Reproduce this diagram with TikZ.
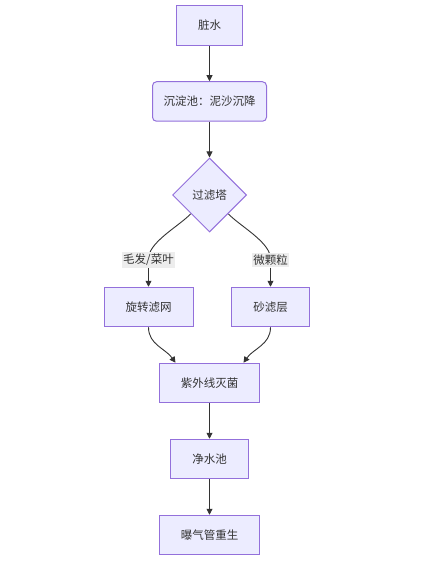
\documentclass[tikz,border=0pt]{standalone}
\usepackage{fontspec}
\setmainfont{Noto Sans CJK SC}
\usepackage{tikz}
\usetikzlibrary{shapes.geometric,arrows.meta,calc}
\pgfdeclarelayer{background}
\pgfsetlayers{background,main}
\definecolor{nodefill}{HTML}{ECECFF}
\definecolor{nodeline}{HTML}{9370DB}
\definecolor{linkcol}{HTML}{333333}
\definecolor{lblfill}{HTML}{EDEDED}

\begin{document}
\begin{tikzpicture}[x=1pt, y=1pt, node distance=76pt, font=\fontsize{11.5}{14}\selectfont, text=linkcol]
\tikzstyle{box}=[draw=nodeline, line width=1pt, fill=nodefill, minimum height=39.5pt, inner xsep=21.5pt]
\tikzstyle{roundbox}=[box, rounded corners=4pt, inner xsep=11pt]
\tikzstyle{decision}=[diamond, draw=nodeline, line width=1pt, fill=nodefill, minimum size=74pt, inner sep=0pt]
\tikzstyle{lbl}=[fill=lblfill, inner xsep=1.5pt, inner ysep=2pt]
\tikzstyle{link}=[draw=linkcol, line width=0.9pt]
\tikzstyle{flow}=[link, -{Triangle[length=6pt, width=6pt]}]
\useasboundingbox (0,0) rectangle (438,-569);

\node[box]      (dirty)  at (209.5,-25.5)  {脏水};
\node[roundbox] (settle) [below of=dirty]  {沉淀池：泥沙沉降};
\node[decision] (filter) [below of=settle, node distance=93.5pt] {过滤塔};
\node[lbl]      (hair)   [below of=filter, node distance=65pt, xshift=-61pt] {毛发/菜叶};
\node[lbl]      (grain)  [below of=filter, node distance=65pt, xshift=61pt]  {微颗粒};
\node[box]      (screen) [below of=filter, node distance=112pt, xshift=-61pt] {旋转滤网};
\node[box]      (sand)   [below of=filter, node distance=112pt, xshift=61pt]  {砂滤层};
\node[box]      (uv)     [below of=filter, node distance=188pt] {紫外线灭菌};
\node[box]      (clean)  [below of=uv]     {净水池};
\node[box]      (aerate) [below of=clean]  {曝气管重生};

\path[flow] (dirty) -- (settle);
\path[flow] (settle) -- (filter);
% branch lines run under the labels
\begin{pgfonlayer}{background}
\path[link] (filter.south west) to[out=-133, in=95, looseness=0.7] (hair.center);
\path[link] (filter.south east) to[out=-47, in=85, looseness=0.7] (grain.center);
\end{pgfonlayer}
\path[flow] (hair) -- (screen);
\path[flow] (grain) -- (sand);
\path[flow] (screen.south) to[out=-90, in=125] ($(uv.north)+(-34,0)$);
\path[flow] (sand.south) to[out=-90, in=55] ($(uv.north)+(34,0)$);
\path[flow] (uv) -- (clean);
\path[flow] (clean) -- (aerate);
\end{tikzpicture}
\end{document}
